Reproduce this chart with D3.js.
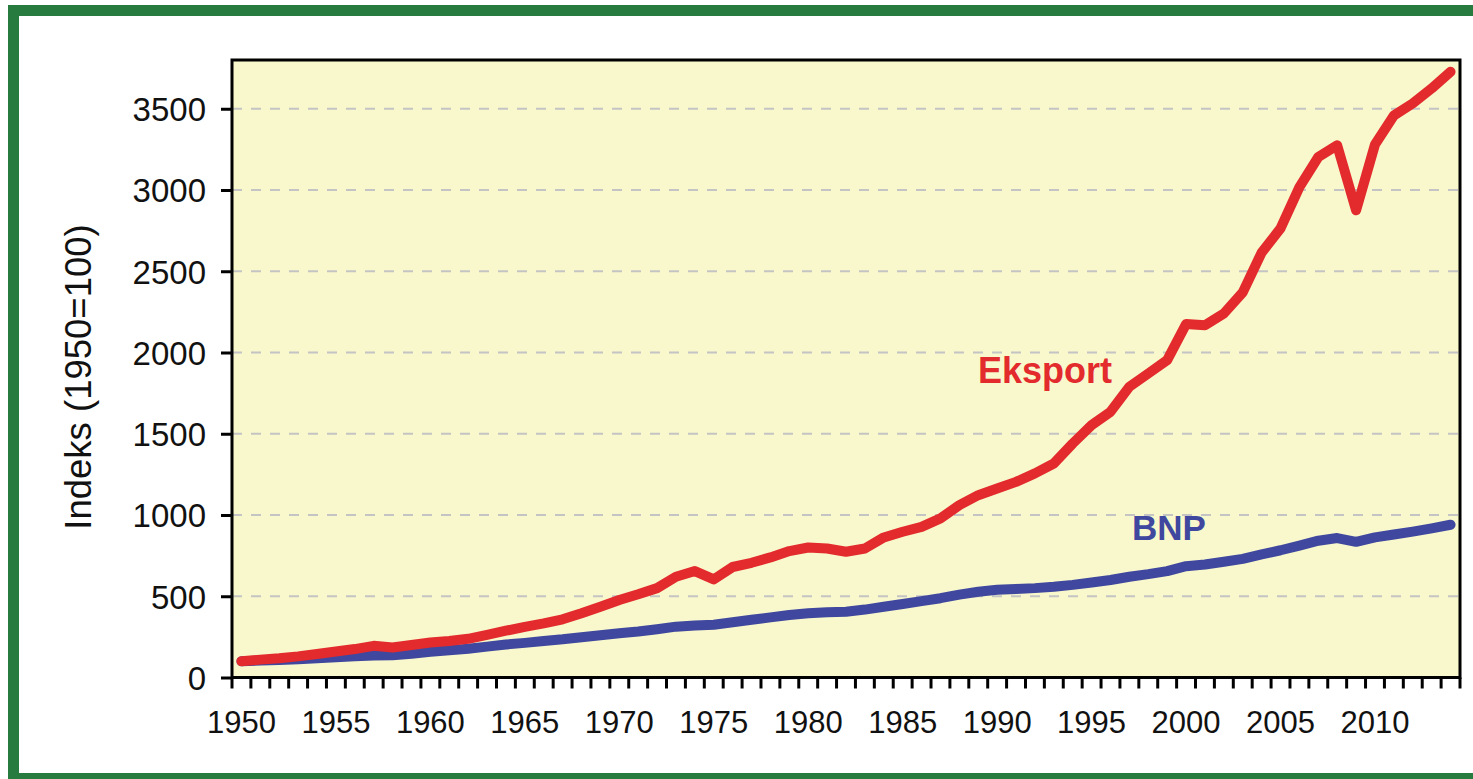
<!DOCTYPE html>
<html>
<head>
<meta charset="utf-8">
<script src="https://cdn.jsdelivr.net/npm/d3@7"></script>
<style>
  html, body { margin: 0; padding: 0; background: #ffffff; }
  svg { display: block; }
  text { font-family: "Liberation Sans", Arial, sans-serif; }
</style>
</head>
<body>
<svg id="chart" width="1473" height="779"></svg>
<script>
// ---- data ----
const years = d3.range(1950, 2015);
const eksport = [100,110,118,130,145,160,175,195,185,200,
                 215,225,238,262,288,312,333,358,395,435,
                 477,512,550,620,655,604,680,706,739,778,
                 800,794,774,794,862,897,927,979,1061,1122,
                 1163,1204,1256,1317,1440,1553,1635,1789,1871,1953,
                 2175,2168,2240,2370,2615,2764,3018,3203,3275,2875,
                 3280,3459,3533,3625,3728];
const bnp = [100,104,107,112,118,124,130,135,137,146,
             158,168,177,190,203,213,225,235,248,260,
             272,283,297,313,320,325,340,355,370,385,
             395,402,405,418,435,452,470,488,510,528,
             540,545,550,558,570,585,600,620,636,655,
             685,695,712,730,758,783,812,842,858,835,
             862,880,898,918,940];
const yTicks = [0,500,1000,1500,2000,2500,3000,3500];
const xLabelYears = [1950,1955,1960,1965,1970,1975,1980,1985,1990,1995,2000,2005,2010];
const yTitle = "Indeks (1950=100)";
const seriesLabels = [{name: "Eksport", series: "eksport"}, {name: "BNP", series: "bnp"}];

// ---- layout ----
const svg = d3.select("#chart");
const L = 232, R = 1460, T = 60, B = 677.5;
const red = "#E32A2D", blue = "#3F479F";

// green frame
svg.append("rect").attr("x", 13.5).attr("y", 10.5).attr("width", 1500).attr("height", 768)
  .attr("fill", "none").attr("stroke", "#277B3F").attr("stroke-width", 11);

const x = d3.scaleBand().domain(years).range([L, R]).padding(0);
const y = d3.scaleLinear().domain([0, 3800]).range([B, T]);
const cx = d => x(d) + x.bandwidth() / 2;

// plot background
svg.append("rect").attr("x", L).attr("y", T).attr("width", R - L).attr("height", B - T)
  .attr("fill", "#F8F8CC");

// gridlines
svg.append("g").selectAll("line").data(yTicks.filter(v => v > 0)).join("line")
  .attr("x1", L).attr("x2", R).attr("y1", d => y(d)).attr("y2", d => y(d))
  .attr("stroke", "#C4C4C4").attr("stroke-width", 2).attr("stroke-dasharray", "10,9");

// y axis
const yAxis = d3.axisLeft(y).tickValues(yTicks).tickSize(11).tickPadding(0).tickFormat(d3.format("d"));
const gy = svg.append("g").attr("transform", `translate(${L},0)`).call(yAxis);
gy.select(".domain").remove();
gy.selectAll(".tick line").attr("stroke", "#000").attr("stroke-width", 3);
gy.selectAll(".tick text").attr("x", -26).attr("dy", "0.36em")
  .attr("font-size", 33).attr("fill", "#111");

// x axis: tick marks at band edges
const edges = years.map(d => x(d)).concat([R]);
svg.append("g").selectAll("line").data(edges).join("line")
  .attr("x1", d => d).attr("x2", d => d).attr("y1", B).attr("y2", B + 11)
  .attr("stroke", "#000").attr("stroke-width", 3);
const xAxis = d3.axisBottom(x).tickValues(xLabelYears).tickSize(0).tickPadding(0);
const gx = svg.append("g").attr("transform", `translate(0,${B})`).call(xAxis);
gx.select(".domain").remove();
gx.selectAll(".tick text").attr("y", 55).attr("dy", 0)
  .attr("font-size", 31).attr("fill", "#111");

// lines
const line = d3.line().x((d, i) => cx(years[i])).y(d => y(d));
svg.append("path").datum(bnp).attr("d", line).attr("fill", "none")
  .attr("stroke", blue).attr("stroke-width", 10).attr("stroke-linejoin", "round").attr("stroke-linecap", "round");
svg.append("path").datum(eksport).attr("d", line).attr("fill", "none")
  .attr("stroke", red).attr("stroke-width", 10).attr("stroke-linejoin", "round").attr("stroke-linecap", "round");

// plot border
svg.append("rect").attr("x", L).attr("y", T).attr("width", R - L).attr("height", B - T)
  .attr("fill", "none").attr("stroke", "#000").attr("stroke-width", 3);

// series labels
svg.append("text").attr("x", 978).attr("y", 383).attr("font-size", 36).attr("font-weight", "bold")
  .attr("fill", red).text(seriesLabels[0].name);
svg.append("text").attr("x", 1132).attr("y", 540).attr("font-size", 35).attr("font-weight", "bold")
  .attr("fill", blue).text(seriesLabels[1].name);

// y title
svg.append("text").attr("transform", "translate(91,377) rotate(-90)").attr("text-anchor", "middle")
  .attr("font-size", 36.5).attr("fill", "#111").text(yTitle);
</script>
</body>
</html>
